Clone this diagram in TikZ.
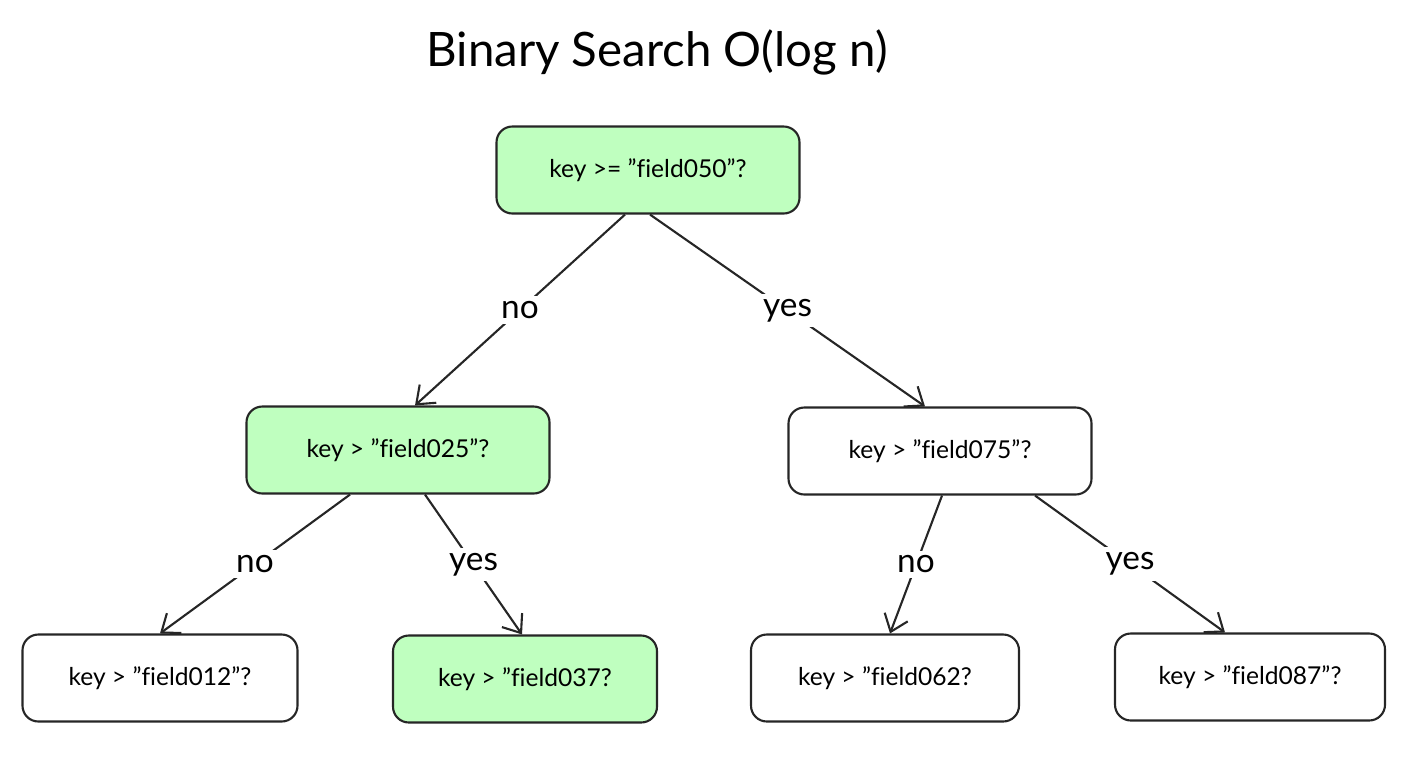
\documentclass[tikz,border=0pt]{standalone}
\usepackage{fontspec}
\setmainfont{Lato}[Ligatures={NoCommon}]
\usetikzlibrary{arrows.meta}
\newcommand{\qt}{\symbol{34}}
\tikzset{
  qbox/.style={draw=black!85,line width=1.2pt,rounded corners=9pt,minimum height=1.74cm,
    font=\fontsize{14}{16}\selectfont},
  hit/.style={qbox,fill=green!25!white},
  branch/.style={draw=black!85,line width=1.2pt,-{Straight Barb[length=9pt,width=14pt]}},
  answer/.style={fill=white,inner sep=3pt,font=\fontsize{19}{22}\selectfont}
}
\begin{document}
\begin{tikzpicture}
  \useasboundingbox (0,0) rectangle (28.12,-15.12);
  \node[font=\fontsize{27}{30}\selectfont] (title) at (13.14,-1.04) {Binary Search O(log n)};
  \node[hit,minimum width=6.06cm] (root) at (12.96,-3.40) {key >= \qt field050\qt?};
  \node[hit,minimum width=6.06cm] (left) at (7.96,-9.00) {key > \qt field025\qt?};
  \node[qbox,minimum width=6.06cm] (right) at (18.80,-9.02) {key > \qt field075\qt?};
  \node[qbox,minimum width=5.50cm] (ll) at (3.20,-13.56) {key > \qt field012\qt?};
  \node[hit,minimum width=5.28cm] (lr) at (10.50,-13.58) {key > \qt field037?};
  \node[qbox,minimum width=5.36cm] (rl) at (17.70,-13.56) {key > \qt field062?};
  \node[qbox,minimum width=5.40cm] (rr) at (25.00,-13.54) {key > \qt field087\qt?};
  % branches
  \draw[branch] ([xshift=-0.46cm]root.south) -- node[answer]{no} ([xshift=0.34cm]left.north);
  \draw[branch] ([xshift=0.04cm]root.south) -- node[answer]{yes} ([xshift=-0.30cm]right.north);
  \draw[branch] ([xshift=-0.96cm]left.south) -- node[answer]{no} (ll.north);
  \draw[branch] ([xshift=0.54cm]left.south) -- node[answer]{yes} ([xshift=-0.06cm]lr.north);
  \draw[branch] ([xshift=0.04cm]right.south) -- node[answer]{no} ([xshift=0.10cm]rl.north);
  \draw[branch] ([xshift=1.90cm]right.south) -- node[answer]{yes} ([xshift=-0.50cm]rr.north);
\end{tikzpicture}
\end{document}
